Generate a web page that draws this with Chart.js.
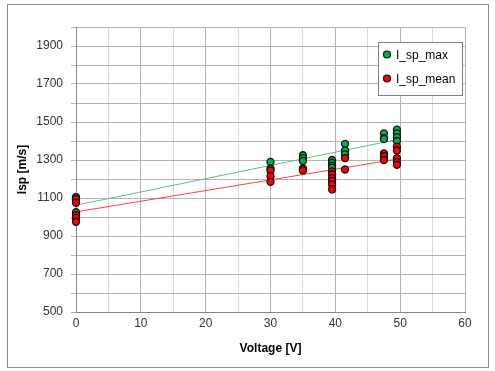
<!DOCTYPE html>
<html>
<head>
<meta charset="utf-8">
<script src="https://cdn.jsdelivr.net/npm/chart.js@4/dist/chart.umd.min.js"></script>
<style>
  html, body { margin: 0; padding: 0; background: #fff; }
  #wrap { position: relative; width: 495px; height: 371px; }
</style>
</head>
<body>
<div id="wrap"><canvas id="chart" width="495" height="371"></canvas></div>
<script>
const maxVoltage = [0, 0, 0, 30, 30, 35, 35, 35, 39.5, 39.5, 39.5, 39.5, 41.5, 41.5, 41.5, 47.5, 47.5, 47.5, 49.5, 49.5, 49.5, 49.5];
const maxIsp     = [1105, 1095, 1025, 1290, 1255, 1325, 1310, 1295, 1300, 1285, 1270, 1260, 1385, 1350, 1330, 1440, 1415, 1410, 1460, 1440, 1420, 1400];

const meanVoltage = [0, 0, 0, 0, 0, 30, 30, 30, 35, 35, 39.5, 39.5, 39.5, 39.5, 39.5, 39.5, 41.5, 41.5, 47.5, 47.5, 47.5, 49.5, 49.5, 49.5, 49.5, 49.5];
const meanIsp     = [1095, 1075, 1010, 995, 975, 1245, 1215, 1185, 1255, 1245, 1240, 1225, 1205, 1190, 1170, 1145, 1310, 1250, 1335, 1320, 1300, 1370, 1350, 1310, 1290, 1275];

const seriesNames = ['I_sp_max', 'I_sp_mean'];
const xTitle = 'Voltage [V]';
const yTitle = 'Isp [m/s]';

const FONT = '"Liberation Sans", Arial, sans-serif';

// pair up x/y arrays for the scatter datasets
function toPoints(xs, ys) {
  return xs.map((x, i) => ({ x: x, y: ys[i] }));
}

// least squares line, like the Excel linear trendline
function trend(xs, ys) {
  const n = xs.length;
  const mx = xs.reduce((a, b) => a + b, 0) / n;
  const my = ys.reduce((a, b) => a + b, 0) / n;
  let sxy = 0, sxx = 0;
  for (let i = 0; i < n; i++) {
    sxy += (xs[i] - mx) * (ys[i] - my);
    sxx += (xs[i] - mx) * (xs[i] - mx);
  }
  const k = sxy / sxx;
  const b = my - k * mx;
  const x0 = Math.min(...xs), x1 = Math.max(...xs);
  return [{ x: x0, y: b + k * x0 }, { x: x1, y: b + k * x1 }];
}

// white background + grey frame round the whole chart
const framePlugin = {
  id: 'frame',
  beforeDraw(chart) {
    const ctx = chart.ctx;
    ctx.save();
    ctx.fillStyle = '#ffffff';
    ctx.fillRect(0, 0, chart.width, chart.height);
    ctx.strokeStyle = '#8c8c8c';
    ctx.lineWidth = 1;
    ctx.strokeRect(7.5, 4.5, 481, 363);
    ctx.restore();
  }
};

// legend box sitting inside the plot, top right
const boxLegend = {
  id: 'boxLegend',
  afterDraw(chart) {
    const ctx = chart.ctx;
    const area = chart.chartArea;
    const left = area.right - 87, top = area.top + 15;
    ctx.save();
    ctx.fillStyle = '#ffffff';
    ctx.fillRect(left, top, 84, 53);
    ctx.strokeStyle = '#7f7f7f';
    ctx.lineWidth = 1;
    ctx.strokeRect(left + 0.5, top + 0.5, 84, 53);
    ctx.font = '12px ' + FONT;
    ctx.textBaseline = 'middle';
    const marks = chart.data.datasets.filter(d => d.type === 'scatter');
    marks.forEach((d, i) => {
      const y = top + 12.5 + i * 24;
      ctx.beginPath();
      ctx.arc(left + 9, y, 3.5, 0, Math.PI * 2);
      ctx.fillStyle = d.backgroundColor;
      ctx.fill();
      ctx.strokeStyle = d.borderColor;
      ctx.lineWidth = 1.2;
      ctx.stroke();
      ctx.fillStyle = '#000000';
      ctx.fillText(d.label, left + 18, y + 1);
    });
    ctx.restore();
  }
};

const data = {
  datasets: [
    {
      type: 'scatter',
      label: seriesNames[0],
      data: toPoints(maxVoltage, maxIsp),
      backgroundColor: '#00b050',
      borderColor: '#111111',
      borderWidth: 1.3,
      pointRadius: 3.5,
      clip: false,
      order: 2
    },
    {
      type: 'scatter',
      label: seriesNames[1],
      data: toPoints(meanVoltage, meanIsp),
      backgroundColor: '#ff0000',
      borderColor: '#111111',
      borderWidth: 1.3,
      pointRadius: 3.5,
      clip: false,
      order: 1
    },
    {
      type: 'line',
      label: 'max trend',
      data: trend(maxVoltage, maxIsp),
      borderColor: '#5cc47f',
      borderWidth: 1,
      pointRadius: 0,
      order: 4
    },
    {
      type: 'line',
      label: 'mean trend',
      data: trend(meanVoltage, meanIsp),
      borderColor: '#ff4040',
      borderWidth: 1,
      pointRadius: 0,
      order: 3
    }
  ]
};

const config = {
  type: 'scatter',
  data: data,
  options: {
    responsive: false,
    animation: false,
    layout: { padding: { left: 0, right: 30, top: 27, bottom: 0 } },
    plugins: {
      legend: { display: false },
      tooltip: { enabled: false }
    },
    scales: {
      x: {
        type: 'linear',
        min: 0,
        max: 60,
        afterFit(scale) { scale.height = 59; },
        ticks: {
          stepSize: 5,
          padding: 4,
          color: '#333333',
          font: { family: FONT, size: 12 },
          callback: v => (v % 10 === 0 ? v : '')
        },
        grid: {
          drawTicks: false,
          color: ctx => (ctx.tick && ctx.tick.value % 10 === 0 ? '#b4b4b4' : '#d9d9d9')
        },
        border: { color: '#868686' },
        title: {
          display: true,
          text: xTitle,
          color: '#000000',
          font: { family: FONT, size: 12, weight: 'bold' },
          padding: { top: 0, bottom: 15 }
        }
      },
      y: {
        type: 'linear',
        min: 500,
        max: 2000,
        afterFit(scale) { scale.width = 76; },
        ticks: {
          stepSize: 50,
          padding: 8,
          color: '#333333',
          font: { family: FONT, size: 12 },
          callback: v => (v % 200 === 100 ? v : '')
        },
        grid: {
          tickLength: 5,
          color: ctx => (ctx.tick && ctx.tick.value % 100 === 0 ? '#b4b4b4' : '#d9d9d9')
        },
        border: { color: '#868686' },
        title: {
          display: true,
          text: yTitle,
          color: '#000000',
          font: { family: FONT, size: 12, weight: 'bold' },
          padding: { top: 15, bottom: 0 }
        }
      }
    }
  },
  plugins: [framePlugin, boxLegend]
};

const chart = new Chart(document.getElementById('chart'), config);
</script>
</body>
</html>
